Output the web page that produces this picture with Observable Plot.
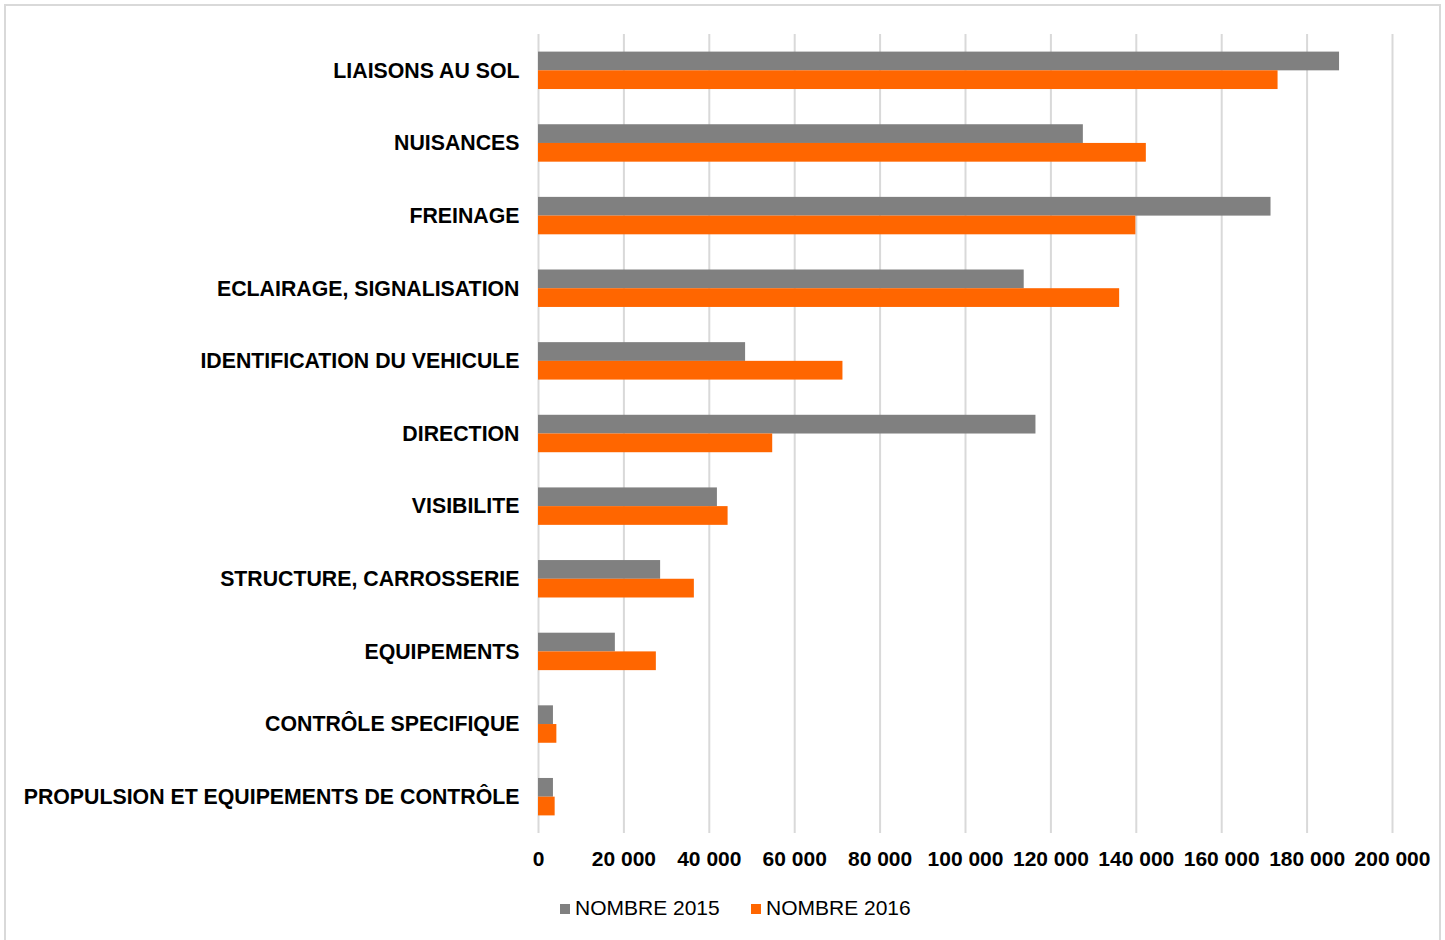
<!DOCTYPE html>
<html>
<head>
<meta charset="utf-8">
<script src="https://cdn.jsdelivr.net/npm/d3@7"></script>
<script src="https://cdn.jsdelivr.net/npm/@observablehq/plot@0.6"></script>
<style>
  body { margin: 0; background: #fff; font-family: "Liberation Sans", Arial, sans-serif; }
  #frame { position: absolute; left: 4px; top: 4px; width: 1437px; height: 950px; border: 2px solid #d9d9d9; box-sizing: border-box; }
  #chart { position: absolute; left: 0; top: 0; }
  .leg { position: absolute; top: 896px; font-size: 21px; color: #000; line-height: 24px; white-space: nowrap; }
  .sw { display: inline-block; width: 10px; height: 10px; margin-right: 5px; vertical-align: 1px; }
</style>
</head>
<body>
<div id="frame"></div>
<div id="chart"></div>
<div class="leg" id="leg2015" style="left:560px"><span class="sw" style="background:#808080"></span><span>NOMBRE 2015</span></div>
<div class="leg" id="leg2016" style="left:751px"><span class="sw" style="background:#ff6600"></span><span>NOMBRE 2016</span></div>
<script>
const categories = [
  "LIAISONS AU SOL",
  "NUISANCES",
  "FREINAGE",
  "ECLAIRAGE, SIGNALISATION",
  "IDENTIFICATION DU VEHICULE",
  "DIRECTION",
  "VISIBILITE",
  "STRUCTURE, CARROSSERIE",
  "EQUIPEMENTS",
  "CONTRÔLE SPECIFIQUE",
  "PROPULSION ET EQUIPEMENTS DE CONTRÔLE"
];
const n2015 = [187600, 127600, 171550, 113750, 48500, 116500, 41900, 28600, 18000, 3500, 3500];
const n2016 = [173200, 142350, 139900, 136100, 71300, 54850, 44400, 36500, 27600, 4300, 3900];
const xTicks = [0, 20000, 40000, 60000, 80000, 100000, 120000, 140000, 160000, 180000, 200000];

const rows2015 = categories.map((c, i) => ({category: c, value: n2015[i]}));
const rows2016 = categories.map((c, i) => ({category: c, value: n2016[i]}));

const fmt = d => d3.format(",")(d).replace(/,/g, " ");

const chart = Plot.plot({
  width: 1445,
  height: 880,
  marginLeft: 538,
  marginRight: 53,
  marginTop: 34,
  marginBottom: 47,
  style: {fontFamily: "'Liberation Sans', Arial, sans-serif", fontSize: "21px", fontWeight: "bold", color: "#000", background: "transparent", overflow: "visible"},
  x: {domain: [0, 200000], ticks: xTicks, tickFormat: fmt, tickSize: 0, tickPadding: 18, label: null},
  y: {domain: categories, padding: 0, round: false, tickSize: 0, tickPadding: 19, label: null},
  marks: [
    Plot.ruleX(xTicks, {stroke: "#d9d9d9", strokeWidth: 2}),
    Plot.barX(rows2015, {y: "category", x: "value", fill: "#808080", insetTop: 17.6, insetBottom: 36.3}),
    Plot.barX(rows2016, {y: "category", x: "value", fill: "#ff6600", insetTop: 36.3, insetBottom: 17.6}),
    Plot.axisY({tickSize: 0, tickPadding: 19, fontSize: 21.3, fontWeight: "bold", label: null})
  ]
});
document.getElementById("chart").appendChild(chart);
</script>
</body>
</html>
